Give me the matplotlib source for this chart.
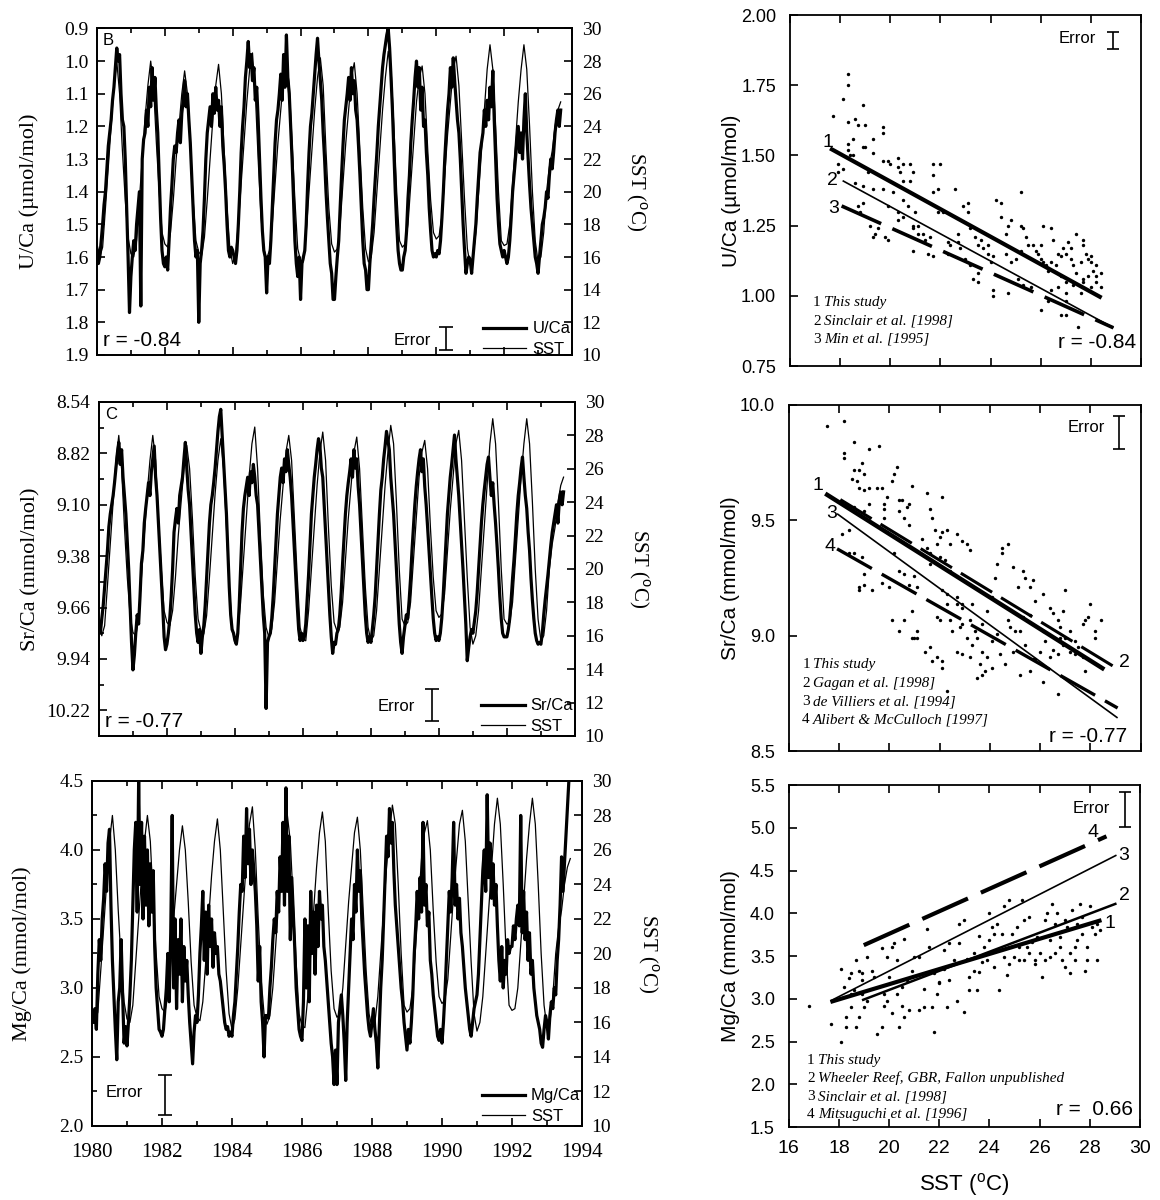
import numpy as np
import matplotlib.pyplot as plt
from matplotlib.ticker import MultipleLocator, FixedLocator, FormatStrFormatter
from matplotlib.transforms import offset_copy

SERIF = 'Liberation Serif'
SANS = 'Liberation Sans'
plt.rcParams['font.family'] = SANS
plt.rcParams['mathtext.fontset'] = 'custom'
plt.rcParams['mathtext.rm'] = SANS
plt.rcParams['axes.linewidth'] = 1.3

# ---------------- time series data ----------------
# monthly SST (deg C) from Jan 1980
sst = [
    16.8, 16.0, 16.6, 19.0, 21.5, 24.0, 26.5, 28.0, 26.0, 22.5, 19.5, 17.2,
    16.2, 16.0, 17.0, 19.5, 22.0, 24.5, 26.5, 28.0, 26.5, 23.0, 20.0, 17.5,
    16.8, 16.6, 17.5, 19.5, 22.0, 24.0, 26.0, 27.4, 26.0, 23.0, 19.5, 17.0,
    16.3, 16.1, 17.2, 19.5, 22.0, 24.5, 26.5, 27.8, 26.0, 22.5, 19.0, 16.5,
    15.6, 16.2, 18.0, 20.5, 23.0, 25.5, 27.5, 28.5, 26.0, 22.0, 18.5, 16.5,
    15.9, 16.4, 18.0, 20.5, 23.0, 25.0, 27.0, 28.0, 26.5, 23.0, 19.5, 16.5,
    15.8, 15.7, 17.5, 20.0, 22.5, 25.0, 27.0, 28.2, 26.5, 22.5, 19.0, 16.8,
    16.3, 16.5, 18.0, 20.5, 23.0, 25.0, 27.0, 27.9, 26.0, 22.5, 19.0, 16.5,
    15.7, 16.0, 17.5, 20.0, 22.5, 25.0, 27.0, 28.6, 27.5, 24.0, 20.0, 17.0,
    16.6, 16.8, 18.0, 20.5, 23.0, 25.5, 27.0, 27.7, 26.0, 22.5, 19.5, 17.5,
    17.1, 17.3, 18.5, 21.0, 23.5, 25.5, 27.5, 28.3, 26.5, 23.0, 19.5, 16.5,
    15.5, 16.0, 17.5, 20.0, 22.5, 25.0, 27.5, 29.0, 27.5, 24.0, 20.0, 17.0,
    16.7, 16.8, 18.0, 20.5, 23.0, 25.5, 27.5, 29.0, 27.5, 24.0, 20.0, 17.0,
    15.7, 16.0, 17.5, 20.0, 21.5, 22.5, 24.0, 25.0, 25.5,
]

# coral records, 24 samples per year from Jan 1980
u_ca = [
    1.58, 1.62, 1.60, 1.55, 1.50, 1.44, 1.40, 1.33, 1.26, 1.22, 1.18, 1.12, 1.08, 1.02, 0.96, 1.00, 0.98, 1.10, 1.18, 1.20, 1.30, 1.45, 1.60, 1.77,
    1.66, 1.60, 1.55, 1.58, 1.50, 1.45, 1.40, 1.75, 1.30, 1.24, 1.22, 1.15, 1.20, 1.08, 1.14, 1.02, 1.12, 1.05, 1.15, 1.22, 1.35, 1.48, 1.58, 1.62,
    1.63, 1.60, 1.64, 1.55, 1.45, 1.38, 1.30, 1.26, 1.28, 1.22, 1.18, 1.25, 1.16, 1.12, 1.06, 1.14, 1.10, 1.18, 1.25, 1.35, 1.45, 1.55, 1.60, 1.58,
    1.80, 1.62, 1.58, 1.52, 1.42, 1.30, 1.22, 1.18, 1.14, 1.20, 1.10, 1.16, 1.08, 1.15, 1.12, 1.20, 1.14, 1.26, 1.32, 1.40, 1.50, 1.58, 1.60, 1.57,
    1.58, 1.60, 1.62, 1.58, 1.50, 1.40, 1.28, 1.20, 1.14, 1.05, 1.00, 0.94, 1.02, 0.98, 1.06, 1.02, 1.12, 1.08, 1.18, 1.30, 1.42, 1.52, 1.58, 1.60,
    1.71, 1.60, 1.62, 1.55, 1.45, 1.35, 1.25, 1.18, 1.15, 1.10, 1.04, 1.12, 0.98, 1.08, 0.92, 1.05, 1.10, 1.20, 1.30, 1.42, 1.55, 1.62, 1.66, 1.60,
    1.73, 1.62, 1.60, 1.58, 1.50, 1.38, 1.28, 1.20, 1.16, 1.10, 1.04, 0.98, 0.93, 1.00, 1.06, 1.12, 1.22, 1.30, 1.40, 1.48, 1.55, 1.62, 1.65, 1.73,
    1.73, 1.66, 1.60, 1.55, 1.45, 1.35, 1.26, 1.18, 1.14, 1.10, 1.05, 1.12, 1.02, 1.10, 1.06, 1.15, 1.18, 1.26, 1.35, 1.45, 1.55, 1.62, 1.64, 1.70,
    1.70, 1.62, 1.56, 1.50, 1.42, 1.35, 1.28, 1.20, 1.14, 1.08, 1.02, 0.98, 0.95, 0.92, 0.90, 0.96, 1.05, 1.15, 1.28, 1.40, 1.50, 1.58, 1.62, 1.64,
    1.64, 1.60, 1.58, 1.52, 1.42, 1.35, 1.25, 1.18, 1.12, 1.05, 1.00, 1.08, 1.02, 1.15, 1.08, 1.20, 1.18, 1.28, 1.35, 1.45, 1.52, 1.58, 1.60, 1.59,
    1.60, 1.58, 1.59, 1.55, 1.48, 1.40, 1.30, 1.22, 1.15, 1.10, 1.02, 1.08, 0.99, 1.06, 1.12, 1.18, 1.22, 1.30, 1.40, 1.50, 1.58, 1.65, 1.62, 1.60,
    1.61, 1.65, 1.60, 1.55, 1.50, 1.42, 1.35, 1.28, 1.25, 1.22, 1.15, 1.20, 1.12, 1.18, 1.08, 1.14, 1.03, 1.18, 1.30, 1.42, 1.50, 1.56, 1.58, 1.60,
    1.58, 1.60, 1.62, 1.60, 1.55, 1.48, 1.40, 1.35, 1.30, 1.25, 1.20, 1.28, 1.22, 1.30, 1.18, 1.10, 1.22, 1.30, 1.38, 1.45, 1.50, 1.55, 1.60, 1.62,
    1.65, 1.60, 1.55, 1.50, 1.48, 1.45, 1.40, 1.42, 1.35, 1.30, 1.33, 1.28, 1.22, 1.18, 1.15, 1.20, 1.15,
]

sr_ca = [
    9.76, 9.80, 9.72, 9.65, 9.55, 9.45, 9.35, 9.22, 9.15, 9.10, 9.05, 8.98, 8.90, 8.82, 8.76, 8.88, 8.80, 8.95, 9.05, 9.15, 9.30, 9.45, 9.65, 9.85,
    10.00, 9.92, 9.80, 9.70, 9.75, 9.60, 9.42, 9.35, 9.20, 9.12, 9.05, 8.98, 9.05, 8.92, 8.85, 8.78, 8.95, 9.05, 9.20, 9.35, 9.50, 9.65, 9.82, 9.89,
    9.86, 9.80, 9.72, 9.60, 9.45, 9.25, 9.18, 9.12, 9.20, 9.05, 9.00, 8.95, 8.85, 8.76, 8.90, 9.02, 9.10, 9.25, 9.40, 9.55, 9.70, 9.80, 9.85, 9.78,
    9.91, 9.82, 9.76, 9.65, 9.50, 9.35, 9.20, 9.10, 9.05, 8.98, 8.90, 8.80, 8.70, 8.62, 8.58, 8.72, 8.85, 9.00, 9.15, 9.35, 9.55, 9.70, 9.78, 9.80,
    9.84, 9.86, 9.80, 9.65, 9.45, 9.25, 9.12, 9.05, 9.00, 8.95, 9.05, 8.92, 8.98, 8.88, 8.95, 9.05, 9.10, 9.25, 9.40, 9.55, 9.70, 9.80, 10.21, 9.85,
    9.82, 9.80, 9.72, 9.60, 9.45, 9.30, 9.15, 9.05, 8.95, 8.90, 8.98, 8.85, 8.92, 8.80, 8.88, 8.95, 9.05, 9.20, 9.35, 9.50, 9.65, 9.78, 9.84, 9.80,
    9.84, 9.82, 9.75, 9.62, 9.48, 9.32, 9.15, 9.05, 8.95, 8.88, 8.80, 8.74, 8.78, 8.90, 8.95, 9.10, 9.25, 9.40, 9.55, 9.70, 9.82, 9.91, 9.85, 9.86,
    9.80, 9.78, 9.70, 9.58, 9.42, 9.28, 9.15, 9.05, 8.98, 8.92, 8.85, 8.95, 8.80, 8.90, 8.85, 9.00, 9.10, 9.25, 9.40, 9.55, 9.70, 9.80, 9.85, 9.82,
    9.85, 9.78, 9.70, 9.60, 9.45, 9.30, 9.15, 9.02, 8.95, 8.85, 8.78, 8.70, 8.75, 8.80, 8.95, 9.05, 9.15, 9.30, 9.45, 9.60, 9.75, 9.85, 9.91, 9.82,
    9.76, 9.70, 9.72, 9.62, 9.50, 9.35, 9.22, 9.10, 9.00, 8.92, 8.85, 8.80, 8.92, 8.85, 9.00, 9.10, 9.22, 9.35, 9.48, 9.60, 9.72, 9.80, 9.84, 9.82,
    9.84, 9.80, 9.72, 9.60, 9.45, 9.30, 9.15, 9.05, 8.95, 8.88, 8.80, 8.72, 8.85, 8.95, 9.05, 9.18, 9.30, 9.45, 9.60, 9.75, 9.95, 9.88, 9.82, 9.78,
    9.80, 9.74, 9.68, 9.58, 9.45, 9.32, 9.20, 9.10, 9.02, 8.95, 8.88, 8.84, 8.95, 9.05, 8.98, 9.10, 9.20, 9.32, 9.45, 9.60, 9.72, 9.80, 9.82, 9.82,
    9.82, 9.78, 9.72, 9.62, 9.50, 9.40, 9.28, 9.15, 9.05, 8.98, 8.90, 8.84, 8.95, 9.05, 9.12, 9.25, 9.35, 9.50, 9.62, 9.72, 9.80, 9.84, 9.86, 9.85,
    9.86, 9.80, 9.70, 9.62, 9.55, 9.48, 9.40, 9.32, 9.25, 9.20, 9.15, 9.10, 9.20, 9.08, 9.03, 9.10, 9.03,
]

mg_ca = [
    2.80, 2.75, 2.85, 2.70, 3.10, 3.35, 3.20, 3.50, 3.65, 3.90, 3.70, 4.05, 4.15, 3.60, 3.20, 2.95, 2.70, 2.48, 2.90, 3.00, 3.35, 2.95, 2.60, 2.72,
    2.58, 2.75, 2.95, 3.20, 3.60, 4.00, 4.20, 3.55, 4.50, 3.75, 4.20, 3.50, 4.10, 3.60, 4.00, 3.45, 3.90, 3.55, 3.85, 3.30, 3.00, 2.85, 2.70, 2.68,
    2.65, 2.70, 2.85, 3.00, 3.25, 2.90, 3.40, 4.25, 3.00, 3.50, 2.85, 3.35, 3.10, 3.50, 2.90, 3.30, 3.05, 3.20, 2.95, 2.75, 2.60, 2.45, 2.68, 2.80,
    2.75, 2.95, 3.25, 3.45, 3.70, 3.20, 3.55, 3.10, 3.60, 3.30, 3.50, 3.15, 3.40, 3.25, 3.30, 3.10, 3.05, 2.95, 2.85, 2.75, 2.70, 2.72, 2.65, 2.68,
    2.65, 2.80, 2.90, 3.10, 3.30, 3.55, 3.75, 3.70, 4.10, 3.80, 4.30, 3.90, 4.15, 3.75, 4.00, 3.85, 3.70, 3.45, 3.05, 3.30, 2.90, 2.75, 2.50, 2.80,
    2.80, 2.78, 3.00, 3.15, 3.35, 3.50, 3.40, 3.70, 3.55, 3.95, 3.70, 4.20, 3.60, 4.45, 3.70, 4.10, 3.35, 3.80, 3.55, 3.30, 3.00, 2.85, 2.70, 2.65,
    2.62, 2.90, 3.50, 3.00, 3.45, 2.90, 3.70, 3.25, 3.55, 3.10, 3.60, 3.30, 3.70, 3.50, 3.60, 3.30, 3.20, 3.05, 2.90, 2.75, 2.60, 2.50, 2.30, 2.55,
    2.30, 2.75, 2.85, 2.95, 2.80, 2.60, 2.33, 2.75, 3.00, 3.25, 3.50, 3.35, 3.75, 3.55, 4.00, 3.70, 3.85, 3.50, 3.30, 3.10, 2.95, 2.80, 2.70, 2.65,
    2.75, 2.85, 2.70, 2.60, 2.42, 2.70, 3.00, 3.20, 3.50, 3.80, 4.10, 3.95, 4.30, 4.05, 4.20, 3.85, 3.60, 3.45, 3.30, 3.15, 3.00, 2.90, 2.75, 2.65,
    2.55, 2.70, 2.60, 2.75, 2.95, 3.25, 3.45, 3.70, 3.50, 3.80, 3.55, 4.20, 3.60, 3.75, 3.45, 3.55, 3.20, 3.10, 2.95, 2.85, 2.75, 2.65, 2.62, 2.70,
    2.60, 2.75, 2.95, 3.20, 3.45, 3.70, 3.55, 3.80, 4.20, 3.60, 3.75, 3.50, 3.65, 3.40, 3.30, 3.15, 3.00, 2.90, 2.80, 2.70, 2.65, 2.75, 2.85, 2.90,
    2.95, 3.10, 3.35, 3.60, 3.85, 4.00, 3.70, 4.40, 3.80, 4.05, 3.65, 3.90, 3.60, 3.75, 3.45, 3.20, 3.05, 3.30, 3.00, 3.20, 3.10, 3.35, 3.25, 3.30,
    3.30, 3.45, 3.35, 3.50, 3.60, 3.45, 4.25, 3.40, 3.70, 3.35, 3.55, 3.20, 3.40, 3.10, 3.20, 3.00, 2.90, 2.80, 2.75, 2.70, 2.60, 2.57, 2.70, 2.80,
    2.75, 2.63, 2.80, 2.90, 2.85, 3.00, 2.95, 3.20, 3.35, 3.60, 3.95, 3.70, 3.90, 4.10, 4.30, 4.50,
]

# ---------------- calibration scatter data (SST, ratio) ----------------
u_pts = [
    (17.7, 1.64), (18.3, 1.79), (18.3, 1.75), (18.1, 1.70), (18.3, 1.62), (18.6, 1.63), (18.7, 1.61), (19.0, 1.61), (18.9, 1.68), (19.3, 1.56),
    (19.7, 1.60), (19.7, 1.58), (18.3, 1.54), (18.3, 1.52), (18.4, 1.50), (18.5, 1.50), (18.9, 1.53), (19.0, 1.53), (18.5, 1.56), (19.3, 1.51),
    (19.7, 1.48), (19.9, 1.48), (20.0, 1.47), (20.3, 1.49), (20.3, 1.46), (20.5, 1.47), (20.8, 1.47), (20.9, 1.44), (20.8, 1.41), (20.4, 1.44),
    (20.5, 1.41), (17.9, 1.47), (18.1, 1.45), (17.9, 1.44), (18.6, 1.40), (18.9, 1.39), (19.1, 1.44), (19.3, 1.38), (19.7, 1.38), (19.9, 1.32),
    (18.7, 1.32), (18.8, 1.30), (18.9, 1.33), (19.2, 1.25), (19.5, 1.24), (19.3, 1.21), (19.8, 1.21), (20.3, 1.30), (20.3, 1.27), (20.5, 1.34),
    (20.9, 1.25), (20.9, 1.24), (21.1, 1.22), (21.3, 1.22), (21.6, 1.21), (21.5, 1.15), (21.7, 1.43), (21.7, 1.37), (21.9, 1.38), (21.7, 1.47),
    (22.0, 1.47), (21.9, 1.30), (22.1, 1.30), (22.3, 1.19), (22.4, 1.18), (22.6, 1.38), (22.7, 1.22), (22.8, 1.17), (22.9, 1.32), (23.1, 1.33),
    (23.1, 1.30), (23.2, 1.24), (23.4, 1.21), (23.5, 1.18), (23.6, 1.20), (23.7, 1.17), (23.9, 1.18), (23.9, 1.15), (24.0, 1.12), (24.1, 1.14),
    (24.2, 1.34), (24.4, 1.33), (24.4, 1.28), (24.6, 1.22), (24.7, 1.25), (24.8, 1.27), (25.2, 1.37), (25.2, 1.25), (25.3, 1.24), (25.4, 1.21),
    (25.5, 1.18), (25.7, 1.18), (25.8, 1.16), (25.9, 1.15), (26.0, 1.13), (26.1, 1.12), (26.2, 1.11), (26.3, 1.09), (26.4, 1.12), (26.6, 1.11),
    (26.0, 1.18), (26.1, 1.25), (26.4, 1.24), (26.5, 1.20), (26.7, 1.15), (26.8, 1.14), (26.9, 1.17), (27.0, 1.15), (27.1, 1.19), (27.2, 1.17),
    (27.2, 1.13), (27.3, 1.11), (27.4, 1.08), (27.6, 1.12), (27.7, 1.20), (27.8, 1.15), (27.9, 1.13), (28.0, 1.12), (28.1, 1.09), (28.2, 1.07),
    (28.2, 1.05), (28.4, 1.03), (28.0, 1.03), (27.7, 1.05), (27.6, 1.01), (27.3, 1.04), (27.0, 1.05), (26.8, 1.07), (26.7, 1.03), (27.0, 0.98),
    (26.8, 0.93), (27.0, 0.93), (27.5, 0.89), (26.0, 0.95), (26.3, 0.98), (26.4, 1.02), (25.6, 1.03), (25.3, 1.04), (25.1, 1.06), (24.8, 1.12),
    (24.6, 1.15), (24.1, 1.02), (24.1, 1.00), (24.7, 1.01), (23.5, 1.08), (23.3, 1.06), (23.5, 1.05), (23.2, 1.11), (23.0, 1.13), (22.7, 1.19),
    (22.3, 1.15), (21.7, 1.14), (21.4, 1.20), (21.1, 1.25), (20.5, 1.28), (20.9, 1.16), (19.9, 1.20), (19.4, 1.22), (21.0, 1.30), (20.1, 1.37),
    (20.7, 1.32), (25.2, 1.16), (25.0, 1.13), (27.0, 1.01), (27.7, 1.06), (28.2, 1.11), (27.9, 1.07), (28.4, 1.08), (28.0, 1.14), (27.7, 1.18),
    (27.4, 1.22),
]

sr_pts = [
    (17.5, 9.91), (18.2, 9.93), (18.6, 9.84), (18.2, 9.79), (18.2, 9.77), (18.9, 9.75), (18.6, 9.72), (18.8, 9.72), (19.0, 9.70), (19.2, 9.81),
    (19.6, 9.82), (18.5, 9.68), (18.7, 9.67), (18.8, 9.64), (19.0, 9.63), (19.2, 9.64), (19.5, 9.64), (19.7, 9.64), (19.8, 9.57), (19.9, 9.60),
    (20.1, 9.67), (20.3, 9.73), (20.2, 9.70), (20.4, 9.59), (20.4, 9.54), (20.5, 9.59), (20.7, 9.56), (20.8, 9.57), (20.9, 9.65), (20.6, 9.51),
    (20.8, 9.48), (19.8, 9.51), (19.8, 9.55), (19.2, 9.57), (19.0, 9.54), (18.6, 9.56), (18.4, 9.46), (18.1, 9.44), (18.4, 9.36), (18.6, 9.36),
    (18.9, 9.34), (19.0, 9.27), (18.8, 9.21), (18.8, 9.20), (19.0, 9.22), (19.3, 9.20), (19.7, 9.23), (20.0, 9.21), (20.2, 9.36), (20.4, 9.28),
    (20.6, 9.27), (20.8, 9.22), (21.0, 9.26), (21.1, 9.21), (21.5, 9.62), (21.6, 9.55), (21.7, 9.51), (21.8, 9.46), (22.0, 9.43), (22.1, 9.60),
    (22.1, 9.45), (22.3, 9.46), (22.4, 9.40), (22.7, 9.44), (22.9, 9.41), (23.1, 9.40), (23.2, 9.37), (21.9, 9.40), (22.0, 9.34), (21.6, 9.31),
    (22.2, 9.33), (22.4, 9.28), (21.3, 9.42), (21.5, 9.38), (21.6, 9.36), (22.7, 9.17), (22.9, 9.12), (23.2, 9.07), (23.4, 9.02), (22.9, 9.14),
    (22.8, 9.04), (23.1, 8.99), (23.5, 8.99), (23.7, 8.93), (23.9, 8.91), (23.7, 9.05), (23.9, 9.11), (24.1, 9.17), (24.2, 9.25), (24.3, 9.31),
    (24.5, 9.38), (24.5, 9.36), (24.7, 9.40), (24.9, 9.30), (25.1, 9.21), (25.3, 9.28), (25.4, 9.25), (25.6, 9.21), (25.7, 9.24), (25.8, 9.15),
    (26.1, 9.18), (26.4, 9.12), (26.5, 9.10), (26.7, 9.07), (26.8, 9.04), (26.9, 9.11), (27.0, 9.20), (27.2, 9.02), (27.4, 8.98), (27.5, 8.95),
    (27.7, 9.05), (27.8, 9.07), (27.9, 9.08), (28.0, 9.14), (28.2, 9.02), (28.2, 8.99), (28.4, 9.07), (27.7, 8.91), (27.8, 8.85), (27.2, 8.93),
    (26.9, 8.96), (26.7, 8.92), (26.4, 8.91), (26.1, 9.02), (26.0, 8.93), (25.7, 8.90), (25.4, 8.96), (25.2, 9.02), (25.0, 9.02), (24.9, 8.93),
    (24.6, 8.88), (24.4, 8.92), (24.1, 8.86), (23.8, 8.85), (23.6, 8.88), (23.2, 8.91), (22.9, 8.92), (22.7, 8.93), (23.3, 8.96), (22.3, 9.14),
    (22.1, 9.20), (22.3, 9.18), (22.0, 9.07), (21.9, 9.08), (21.6, 8.95), (21.4, 8.93), (21.1, 9.02), (20.9, 8.99), (21.7, 8.89), (22.1, 8.86),
    (22.4, 9.07), (22.5, 9.02), (24.8, 9.04), (24.7, 9.07), (24.3, 9.01), (24.1, 8.98), (25.3, 9.08), (25.6, 9.09), (26.2, 8.98), (26.5, 8.94),
    (26.8, 8.99), (27.0, 8.99), (27.4, 8.92), (26.1, 8.80), (26.7, 8.75), (25.2, 8.83), (25.6, 8.85), (25.8, 8.90), (23.7, 8.83), (23.5, 8.82),
    (22.3, 8.76), (22.7, 9.14), (22.9, 9.05), (23.3, 9.14), (20.1, 9.07), (20.4, 9.02), (20.6, 9.07), (21.0, 8.99), (21.1, 8.99), (20.9, 9.11),
    (21.9, 8.91), (22.1, 8.89),
]

mg_pts = [
    (16.8, 2.92), (17.7, 2.71), (18.1, 3.35), (18.1, 2.50), (18.2, 3.14), (18.3, 2.79), (18.3, 2.67), (18.4, 3.24), (18.5, 3.30), (18.5, 3.06),
    (18.5, 2.90), (18.6, 3.10), (18.7, 2.67), (18.7, 3.45), (18.8, 2.79), (18.8, 3.33), (18.9, 3.22), (18.9, 3.30), (18.9, 3.06), (19.0, 2.90),
    (19.1, 3.49), (19.1, 2.98), (19.3, 3.33), (19.4, 3.26), (19.5, 2.59), (19.7, 2.67), (19.7, 3.59), (19.8, 3.06), (19.8, 2.92), (19.9, 3.49),
    (19.9, 2.98), (20.0, 3.26), (20.1, 3.61), (20.1, 2.83), (20.2, 3.65), (20.3, 3.06), (20.3, 3.45), (20.4, 2.67), (20.5, 3.14), (20.5, 2.92),
    (20.6, 3.70), (20.6, 2.79), (20.7, 3.22), (20.8, 2.87), (20.9, 3.33), (21.0, 3.49), (21.2, 3.49), (21.2, 2.87), (21.4, 3.12), (21.4, 2.90),
    (21.5, 3.82), (21.6, 3.61), (21.7, 2.90), (21.8, 3.30), (21.8, 2.61), (21.9, 3.06), (22.0, 3.18), (22.0, 3.20), (22.2, 3.57), (22.2, 3.35),
    (22.3, 2.90), (22.4, 3.22), (22.4, 3.65), (22.6, 3.45), (22.7, 2.98), (22.8, 3.88), (22.8, 3.65), (23.0, 2.85), (23.0, 3.92), (23.1, 3.47),
    (23.2, 3.10), (23.2, 3.26), (23.4, 3.53), (23.4, 3.33), (23.5, 3.10), (23.6, 3.74), (23.6, 3.31), (23.7, 3.43), (23.8, 3.61), (23.9, 3.45),
    (24.0, 4.00), (24.0, 3.69), (24.1, 3.84), (24.2, 3.37), (24.2, 3.76), (24.3, 3.88), (24.4, 3.10), (24.5, 3.76), (24.6, 4.08), (24.6, 3.49),
    (24.7, 3.28), (24.8, 4.15), (24.8, 3.41), (24.9, 3.76), (25.0, 3.49), (25.1, 3.84), (25.2, 3.45), (25.2, 3.61), (25.3, 4.15), (25.4, 3.92),
    (25.4, 3.45), (25.5, 3.61), (25.6, 3.96), (25.6, 3.53), (25.7, 3.67), (25.8, 3.41), (25.8, 3.45), (25.9, 3.72), (26.0, 3.53), (26.1, 3.26),
    (26.2, 3.92), (26.2, 3.45), (26.3, 4.00), (26.4, 3.49), (26.4, 3.69), (26.5, 4.11), (26.6, 3.88), (26.6, 3.53), (26.7, 4.00), (26.8, 3.72),
    (26.8, 3.61), (26.9, 3.45), (27.0, 3.92), (27.0, 3.37), (27.1, 3.84), (27.2, 3.53), (27.2, 3.30), (27.3, 4.04), (27.4, 3.61), (27.4, 3.45),
    (27.5, 3.88), (27.5, 3.69), (27.6, 4.11), (27.7, 3.96), (27.7, 3.76), (27.8, 3.33), (27.9, 3.61), (27.9, 3.45), (28.0, 4.08), (28.1, 3.84),
    (28.2, 3.76), (28.3, 3.45), (28.3, 3.88), (28.4, 3.80),
]

# regression lines: (sst start, sst end, ratio start, ratio end)
u_lines = [(17.6, 28.43, 1.525, 0.993), (18.1, 28.9, 1.41, 0.886), (18.06, 28.9, 1.32, 0.886)]
sr_lines = [(17.45, 28.55, 9.616, 8.855), (18.05, 29.01, 9.59, 8.862),
            (17.92, 29.08, 9.529, 8.645), (17.92, 29.08, 9.377, 8.688)]
mg_lines = [(17.66, 28.47, 2.963, 3.92), (18.92, 29.07, 2.983, 4.115),
            (17.66, 29.07, 2.975, 4.68), (18.99, 28.67, 3.627, 4.90)]

u_refs = ['This study', 'Sinclair et al. [1998]', 'Min et al. [1995]']
sr_refs = ['This study', 'Gagan et al. [1998]', 'de Villiers et al. [1994]', 'Alibert & McCulloch [1997]']
mg_refs = ['This study', 'Wheeler Reef, GBR, Fallon unpublished', 'Sinclair et al. [1998]', 'Mitsuguchi et al. [1996]']

fig = plt.figure(figsize=(11.6, 12), dpi=100)
SST_LABEL = r'SST ($^{\rm o}$C)'


def time_panel(rect, proxy, ylim, yticks, yminor, fmt, ylabel, name, letter, r_text,
               err, err_txt, leg_anchor, show_x):
    ax = fig.add_axes(rect)
    ax2 = ax.twinx()
    t_pr = 1980 + np.arange(len(proxy)) / 24
    t_sst = 1980 + np.arange(len(sst)) / 12
    h1, = ax.plot(t_pr, proxy, color='black', lw=2.3)
    h2, = ax2.plot(t_sst, sst, color='black', lw=0.9)
    ax.set_xlim(1980, 1994)
    ax.set_ylim(*ylim)
    ax2.set_ylim(10, 30)

    ax.xaxis.set_major_locator(MultipleLocator(2))
    ax.xaxis.set_minor_locator(MultipleLocator(1))
    ax.yaxis.set_major_locator(FixedLocator(yticks))
    ax.yaxis.set_minor_locator(FixedLocator(yminor))
    ax.yaxis.set_major_formatter(FormatStrFormatter(fmt))
    ax.tick_params(which='both', direction='in', top=True, right=False, width=1.2)
    ax.tick_params(which='major', length=6)
    ax.tick_params(which='minor', length=3.5)
    ax.tick_params(axis='y', labelsize=14, pad=6, labelfontfamily=SERIF)
    ax.tick_params(axis='x', labelsize=15, pad=12, labelfontfamily=SERIF,
                   labelbottom=show_x)
    ax2.yaxis.set_major_locator(MultipleLocator(2))
    ax2.tick_params(direction='in', length=6, width=1.2, labelsize=14, pad=7,
                    labelfontfamily=SERIF)

    ax.set_ylabel(ylabel, family=SERIF, size=16)
    ax.yaxis.set_label_coords(-0.122, 0.5)
    ax2.set_ylabel(SST_LABEL, family=SERIF, size=15, rotation=270, va='bottom')
    ax2.yaxis.set_label_coords(1.11, 0.5)

    if letter:
        ax.text(0.012, 0.985, letter, transform=ax.transAxes, size=12, va='top', ha='left')
    if r_text:
        ax.text(0.012, 0.015, r_text, transform=ax.transAxes, size=15, va='bottom', ha='left')

    ex, ey, eh = err
    ax.errorbar([ex], [ey], yerr=[eh], color='black', lw=1.2, capsize=5, capthick=1.2)
    tx, ty, tha = err_txt
    ax.text(tx, ty, 'Error', size=12, ha=tha, va='center')

    ax2.legend([h1, h2], [name, 'SST'], loc='lower right', bbox_to_anchor=leg_anchor,
               frameon=False, fontsize=12, handlelength=2.6, handletextpad=0.35,
               labelspacing=0.35, borderpad=0.1, borderaxespad=0)
    return ax


def scatter_panel(rect, pts, lines, styles, num_pos, ylim, ystep, fmt, ylabel, refs,
                  ref_xy, r_text, r_xy, err, err_txt, show_x):
    ax = fig.add_axes(rect)
    xs = [p[0] for p in pts]
    ys = [p[1] for p in pts]
    ax.scatter(xs, ys, s=6, color='black', linewidths=0)
    for (x0, x1, y0, y1), (lw, dashed) in zip(lines, styles):
        ls = (0, (12, 3.4)) if dashed else '-'
        ax.plot([x0, x1], [y0, y1], color='black', lw=lw, linestyle=ls,
                solid_capstyle='butt', dash_capstyle='butt')
    for i, (nx, ny) in enumerate(num_pos):
        ax.text(nx, ny, str(i + 1), size=14, ha='center', va='center')
    ax.set_xlim(16, 30)
    ax.set_ylim(*ylim)
    ax.xaxis.set_major_locator(MultipleLocator(2))
    ax.yaxis.set_major_locator(MultipleLocator(ystep))
    ax.yaxis.set_major_formatter(FormatStrFormatter(fmt))
    ax.tick_params(direction='in', top=True, right=False, length=6, width=1.2)
    ax.tick_params(axis='y', labelsize=13, pad=10)
    ax.tick_params(axis='x', labelsize=14, pad=9, labelbottom=show_x)
    ax.set_ylabel(ylabel, size=15)
    ax.yaxis.set_label_coords(-0.14, 0.5)
    if show_x:
        ax.set_xlabel(SST_LABEL, size=16)
        ax.xaxis.set_label_coords(0.5, -0.13)

    rx, ry0, step = ref_xy
    for i, ref in enumerate(refs):
        ry = ry0 - i * step
        ax.text(rx, ry, str(i + 1), transform=ax.transAxes, family=SERIF, size=11, va='center')
        tr = offset_copy(ax.transAxes, fig=fig, x=8, y=0, units='points')
        ax.text(rx, ry, ref, transform=tr, family=SERIF, style='italic', size=11, va='center')
    ax.text(r_xy[0], r_xy[1], r_text, transform=ax.transAxes, size=15, ha='right', va='center')

    ex, ey, eh = err
    ax.errorbar([ex], [ey], yerr=[eh], color='black', lw=1.2, capsize=4.5, capthick=1.2)
    ax.text(err_txt[0], err_txt[1], 'Error', size=12, ha='center', va='center')
    return ax


# left column: time series
time_panel([0.0836, 0.7042, 0.4095, 0.2721], u_ca, (1.9, 0.9),
           np.arange(0.9, 1.91, 0.1), [], '%.1f', u'U/Ca (\u00b5mol/mol)', 'U/Ca', 'B', 'r = -0.84',
           (1990.3, 1.85, 0.035), (1989.85, 1.855, 'right'), (1.0, -0.012), False)

sr_major = [8.54, 8.82, 9.10, 9.38, 9.66, 9.94, 10.22]
sr_minor = [8.68, 8.96, 9.24, 9.52, 9.80, 10.08]
time_panel([0.0853, 0.3867, 0.4103, 0.2783], sr_ca, (10.36, 8.54),
           sr_major, sr_minor, '%.2f', 'Sr/Ca (mmol/mol)', 'Sr/Ca', 'C', 'r = -0.77',
           (1989.8, 10.19, 0.087), (1989.3, 10.2, 'right'), (1.0, 0.0), False)

time_panel([0.0793, 0.0617, 0.4224, 0.2875], mg_ca, (2.0, 4.5),
           np.arange(2.0, 4.51, 0.5), np.arange(2.25, 4.5, 0.5), '%.1f', 'Mg/Ca (mmol/mol)', 'Mg/Ca',
           None, None, (1982.1, 2.225, 0.145), (1980.93, 2.24, 'center'), (1.0, 0.0), True)

# right column: calibrations
scatter_panel([0.681, 0.695, 0.3026, 0.2925], u_pts, u_lines,
              [(3.0, False), (1.2, False), (2.6, True)],
              [(17.5, 1.547), (17.7, 1.41), (17.75, 1.31)],
              (0.75, 2.0), 0.25, '%.2f', u'U/Ca (\u00b5mol/mol)', u_refs,
              (0.066, 0.18, 0.052), 'r = -0.84', (0.985, 0.066),
              (28.9, 1.91, 0.03), (27.45, 1.917), False)

scatter_panel([0.680, 0.3738, 0.3034, 0.2888], sr_pts, sr_lines,
              [(3.2, False), (2.2, True), (1.2, False), (2.4, True)],
              [(17.15, 9.652), (29.34, 8.884), (17.72, 9.532), (17.65, 9.387)],
              (8.5, 10.0), 0.5, '%.1f', 'Sr/Ca (mmol/mol)', sr_refs,
              (0.038, 0.25, 0.053), 'r = -0.77', (0.96, 0.043),
              (29.14, 9.88, 0.07), (27.85, 9.90), False)

scatter_panel([0.680, 0.0608, 0.3026, 0.285], mg_pts, mg_lines,
              [(3.0, False), (1.8, False), (1.2, False), (3.0, True)],
              [(28.8, 3.88), (29.4, 4.21), (29.34, 4.68), (28.14, 4.95)],
              (1.5, 5.5), 0.5, '%.1f', 'Mg/Ca (mmol/mol)', mg_refs,
              (0.052, 0.195, 0.053), 'r =  0.66', (0.98, 0.05),
              (29.4, 5.215, 0.205), (28.05, 5.23), True)

fig.savefig('out.png', dpi=100)
